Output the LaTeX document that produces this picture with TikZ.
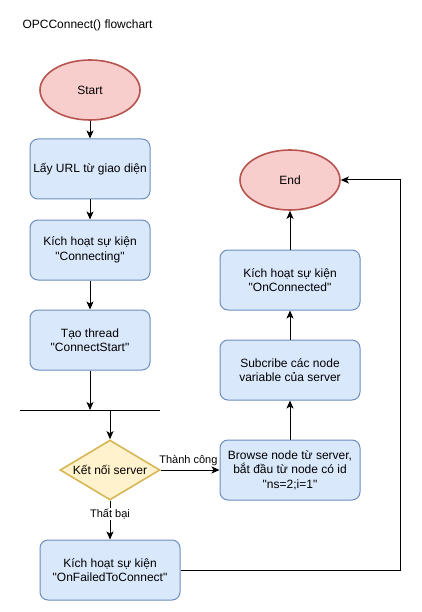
\documentclass[tikz,border=0pt]{standalone}
\usepackage{fontspec}
\setmainfont{Liberation Sans}[Ligatures=TeXOff]
\usetikzlibrary{shapes.geometric,arrows.meta}
\definecolor{redfill}{HTML}{F8CECC}
\definecolor{redline}{HTML}{B85450}
\definecolor{bluefill}{HTML}{DAE8FC}
\definecolor{blueline}{HTML}{6C8EBF}
\definecolor{yelfill}{HTML}{FFF2CC}
\definecolor{yelline}{HTML}{D6B656}
\begin{document}
\begin{tikzpicture}[x=1pt,y=-1pt,
  font=\fontsize{12}{14.5}\selectfont,
  term/.style={ellipse,draw=redline,fill=redfill,line width=1.6pt,minimum width=100pt,minimum height=60pt,inner sep=0pt},
  proc/.style={rectangle,rounded corners=8pt,draw=blueline,fill=bluefill,line width=1pt,minimum height=60pt,inner sep=0pt,align=center},
  dec/.style={diamond,aspect=1.667,draw=yelline,fill=yelfill,line width=1.6pt,minimum width=100pt,minimum height=60pt,inner sep=0pt},
  arr/.style={line width=1pt,-{Stealth[length=8pt,width=7pt,inset=2pt]}},
  lbl/.style={font=\fontsize{11}{13}\selectfont}
]
\useasboundingbox (0,0) rectangle (421,612);
\node[anchor=west] (title) at (19,25) {OPCConnect() flowchart};
\node[term] (start) at (90,90) {Start};
\node[proc,minimum width=120pt] (b1) at (90,169) {Lấy URL từ giao diện};
\node[proc,minimum width=120pt] (b2) at (90,250) {Kích hoạt sự kiện\\"Connecting"};
\node[proc,minimum width=120pt] (b3) at (90,340) {Tạo thread\\"ConnectStart"};
\coordinate (barL) at (20,410);
\coordinate (barR) at (160,410);
\coordinate (barM) at (110,410);
\node[dec] (conn) at (110,470) {Kết nối server};
\node[proc,minimum width=140pt] (browse) at (290,470) {Browse node từ server,\\bắt đầu từ node có id\\"ns=2;i=1"};
\node[proc,minimum width=140pt] (sub) at (290,370) {Subcribe các node\\variable của server};
\node[proc,minimum width=140pt] (onc) at (290,280) {Kích hoạt sự kiện\\"OnConnected"};
\node[term] (end) at (290,180) {End};
\node[proc,minimum width=140pt] (fail) at (110,570) {Kích hoạt sự kiện\\"OnFailedToConnect"};
\coordinate (rt) at (400,180);

\draw[arr] (start) -- (b1);
\draw[arr] (b1) -- (b2);
\draw[arr] (b2) -- (b3);
\draw[line width=1pt] (barL) -- (barR);
\draw[arr] (b3.south) -- (b3.south |- barL);
\draw[arr] (barM) -- (conn.north);
\draw[arr] (conn.east) -- node[lbl,above,pos=0.47] {Thành công} (browse.west);
\draw[arr] (conn.south) -- node[lbl,fill=white,inner sep=1pt,pos=0.35] {Thất bại} (fail.north);
\draw[arr] (browse) -- (sub);
\draw[arr] (sub) -- (onc);
\draw[arr] (onc) -- (end);
\draw[arr] (fail.east) -| (rt) -- (end.east);
\end{tikzpicture}
\end{document}
